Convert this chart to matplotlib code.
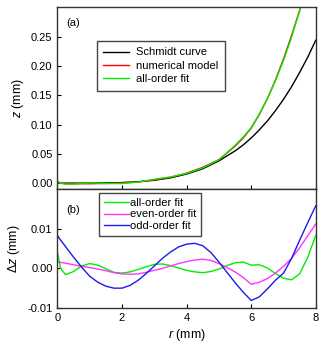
import matplotlib
matplotlib.use('Agg')
import matplotlib.pyplot as plt

plt.rcParams['font.family'] = ['Liberation Sans', 'DejaVu Sans']
plt.rcParams['mathtext.fontset'] = 'custom'
plt.rcParams['mathtext.it'] = 'Liberation Sans:italic'
plt.rcParams['mathtext.rm'] = 'Liberation Sans'

# (a) surface profiles, z in mm
r_top = [0, 0.1, 0.25, 0.5, 1, 1.5, 2, 2.5, 3, 3.5, 4, 4.5, 5, 5.5, 5.75, 6,
         6.25, 6.5, 6.75, 7, 7.25, 7.5, 7.75, 8]
schmidt = [0, 0, 0, 0, 0.0001, 0.0003, 0.001, 0.0024, 0.0049, 0.009, 0.0155,
           0.0245, 0.038, 0.055, 0.0651, 0.077, 0.0909, 0.106, 0.1237, 0.143,
           0.1646, 0.189, 0.215, 0.244]
model = [0, -0.0003, -0.0006, -0.001, -0.001, -0.0005, 0.0005, 0.002, 0.0055,
         0.010, 0.017, 0.027, 0.040, 0.063, 0.077, 0.094, 0.117, 0.144, 0.176,
         0.212, 0.252, 0.295, 0.345, 0.40]
fit_all = [0.004, 0.0, -0.0017, -0.0016, 0.0004, -0.0007, -0.0007, 0.0018,
           0.0066, 0.0106, 0.0166, 0.026, 0.0398, 0.0645, 0.0786, 0.0948, 0.1179,
           0.144, 0.1747, 0.2094, 0.2491, 0.294, 0.347, 0.40]

# (b) residuals, dz in mm
r_res = [0, 0.1, 0.25, 0.5, 0.75, 1.0, 1.25, 1.5, 1.75, 2.0, 2.25, 2.5, 2.75, 3.0,
         3.25, 3.5, 3.75, 4.0, 4.25, 4.5, 4.75, 5.0, 5.25, 5.5, 5.75, 6.0, 6.25,
         6.5, 6.75, 7.0, 7.25, 7.5, 7.75, 8.0]
res_all = [0.0040, 0.0000, -0.0016, -0.0008, 0.0006, 0.0012, 0.0008, -0.0001,
           -0.0010, -0.0012, -0.0009, -0.0003, 0.0004, 0.0010, 0.0011, 0.0007,
           0.0001, -0.0005, -0.0009, -0.0011, -0.0008, -0.0002, 0.0007, 0.0014,
           0.0016, 0.0008, 0.0009, 0.0001, -0.0013, -0.0025, -0.0029, -0.0014,
           0.0028, 0.0083]
res_even = [0.0016, 0.0015, 0.0013, 0.0009, 0.0005, 0.0002, -0.0002, -0.0006,
            -0.0011, -0.0014, -0.0015, -0.0014, -0.0010, -0.0005, 0.0000, 0.0006,
            0.0012, 0.0017, 0.0021, 0.0023, 0.0020, 0.0012, 0.0002, -0.0009,
            -0.0023, -0.0040, -0.0035, -0.0026, -0.0012, 0.0005, 0.0025, 0.0052,
            0.0082, 0.0112]
res_odd = [0.0083, 0.0071, 0.0055, 0.0028, 0.0003, -0.0020, -0.0035, -0.0045,
           -0.0050, -0.0050, -0.0043, -0.0030, -0.0013, 0.0006, 0.0025, 0.0041,
           0.0054, 0.0061, 0.0063, 0.0057, 0.0040, 0.0016, -0.0010, -0.0036,
           -0.0060, -0.0081, -0.0072, -0.0052, -0.0030, -0.0012, 0.0025, 0.0071,
           0.0115, 0.0158]

fig = plt.figure(figsize=(3.3, 3.5), dpi=100)
ax1 = fig.add_axes([0.174, 0.46, 0.783, 0.519])
ax2 = fig.add_axes([0.174, 0.12, 0.783, 0.34])

ax1.plot(r_top, schmidt, color='black', lw=1.0, label='Schmidt curve')
ax1.plot(r_top, model, color='red', lw=1.0, label='numerical model')
ax1.plot(r_top, fit_all, color='#00ee00', lw=1.0, label='all-order fit')
ax1.set_xlim(0, 8)
ax1.set_ylim(-0.01, 0.30)
ax1.set_yticks([0, 0.05, 0.10, 0.15, 0.20, 0.25])
ax1.set_yticklabels(['0.00', '0.05', '0.10', '0.15', '0.20', '0.25'])
ax1.set_xticks([0, 2, 4, 6, 8])
ax1.set_xticklabels([])
ax1.set_ylabel('$z$ (mm)', fontsize=9, labelpad=4)
ax1.text(0.035, 0.895, '(a)', transform=ax1.transAxes, fontsize=8)
ax1.legend(loc='upper left', bbox_to_anchor=(0.152, 0.816), borderaxespad=0,
           fontsize=8, fancybox=False, edgecolor='#444444', framealpha=1,
           handlelength=2.3, handletextpad=0.6, labelspacing=0.3, borderpad=0.6)

ax2.plot(r_res, res_all, color='#00ee00', lw=1.0, label='all-order fit')
ax2.plot(r_res, res_even, color='#ff33ff', lw=1.0, label='even-order fit')
ax2.plot(r_res, res_odd, color='#1a1aee', lw=1.0, label='odd-order fit')
ax2.set_xlim(0, 8)
ax2.set_ylim(-0.01, 0.02)
ax2.set_yticks([-0.01, 0, 0.01])
ax2.set_yticklabels(['-0.01', '0.00', '0.01'])
ax2.set_xticks([0, 2, 4, 6, 8])
ax2.set_xlabel('$r$ (mm)', fontsize=9, labelpad=3)
ax2.set_ylabel('$\\Delta z$ (mm)', fontsize=9, labelpad=4)
ax2.text(0.035, 0.8, '(b)', transform=ax2.transAxes, fontsize=8)
ax2.legend(loc='upper left', bbox_to_anchor=(0.162, 0.964), borderaxespad=0,
           fontsize=8, fancybox=False, edgecolor='#444444', framealpha=1,
           handlelength=2.3, handletextpad=0.1, labelspacing=0.15, borderpad=0.4)

for ax in (ax1, ax2):
    ax.tick_params(direction='in', length=3, width=0.8, labelsize=8,
                   top=False, right=False)
    for sp in ax.spines.values():
        sp.set_linewidth(1.0)
        sp.set_color('#333333')

fig.savefig('out.png', dpi=100)
